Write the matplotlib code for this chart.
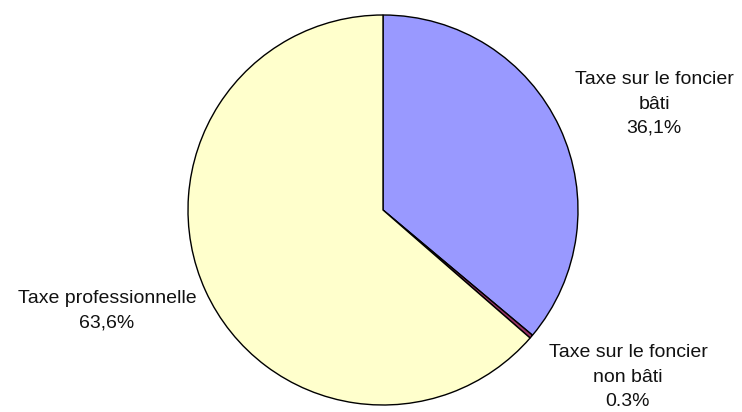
import matplotlib.pyplot as plt

plt.rcParams['font.family'] = ['Liberation Sans', 'DejaVu Sans']

categories = ['Taxe sur le foncier\nbâti', 'Taxe sur le foncier\nnon bâti', 'Taxe professionnelle']
values = [36.1, 0.3, 63.6]
value_labels = ['36,1%', '0.3%', '63,6%']
colors = ['#9999FF', '#993366', '#FFFFCC']

W, H = 742, 412
fig = plt.figure(figsize=(W / 100, H / 100), dpi=100)
ax = fig.add_axes([0, 0, 1, 1])

ax.pie(values, colors=colors, startangle=90, counterclock=False,
       center=(383, H - 210), radius=195,
       wedgeprops=dict(edgecolor='black', linewidth=1.0))

# pie() resets the limits, so fix them afterwards (pixel coords)
ax.set_xlim(0, W)
ax.set_ylim(0, H)
ax.set_aspect('equal')
ax.axis('off')

# label positions in pixel coords (x, y from top)
label_pos = [(654, 104), (628, 377), (107, 311)]
for cat, val, (x, y) in zip(categories, value_labels, label_pos):
    ax.text(x, H - y, cat + '\n' + val, ha='center', va='center',
            fontsize=14, linespacing=1.55, color='#111111')

fig.savefig('out.png', dpi=100)
